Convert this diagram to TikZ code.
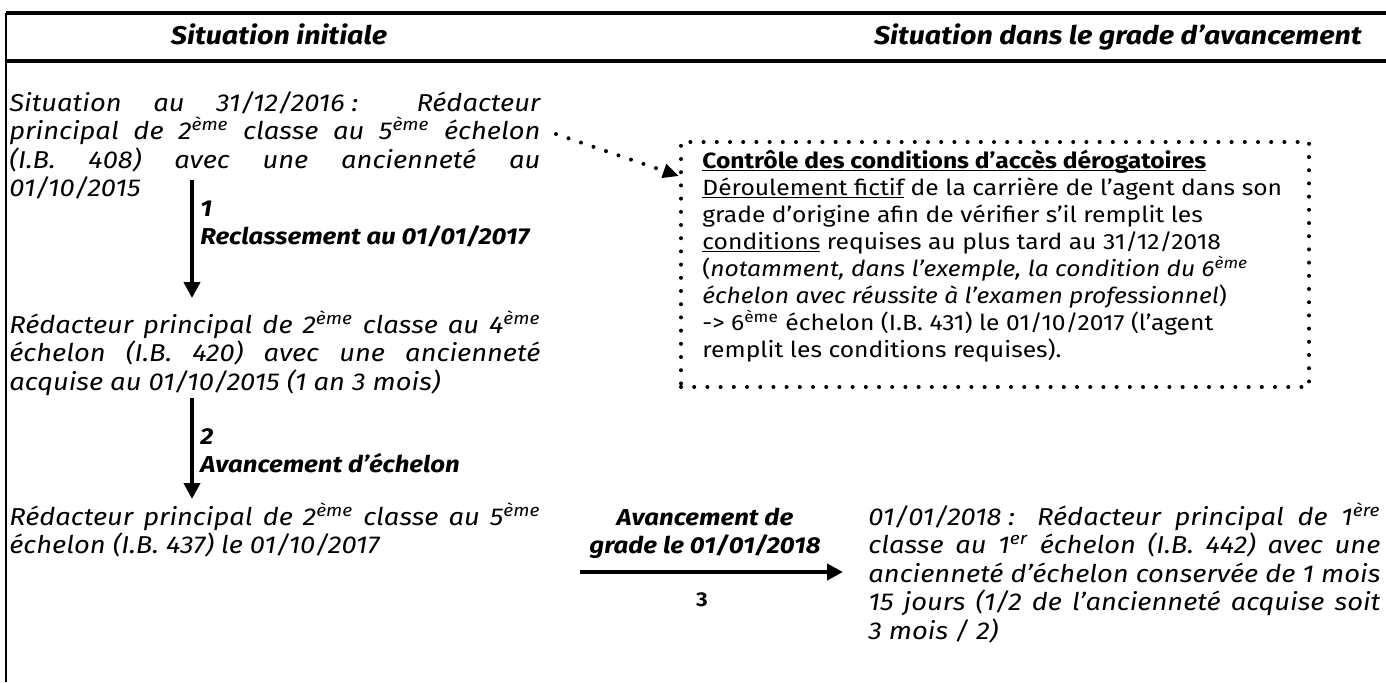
\documentclass[tikz,border=0pt]{standalone}
\usepackage{fontspec}
\setmainfont{Fira Sans}[FakeStretch=1.12]
\usetikzlibrary{arrows.meta}
\newcommand\blkv[1]{\vtop{\lineskiplimit=-1000pt\lineskip=0pt #1}}
\newcommand\ulz[1]{\underline{\smash{#1}}}
\newcommand\colsp{\kern0.28em}
\begin{document}
\begin{tikzpicture}[x=0.5pt,y=-0.5pt,
  title/.style={font=\fontsize{12.8}{15}\selectfont\bfseries\itshape, inner sep=0pt},
  body/.style={font=\fontsize{12.2}{14.25}\selectfont\itshape, inner sep=0pt, anchor=base west},
  lab/.style={font=\fontsize{11.5}{14.25}\selectfont\bfseries\itshape, inner sep=0pt, anchor=base west},
  arr/.style={line width=2pt, -{Triangle[width=8pt,length=8pt]}},
  dots/.style={line width=2pt, line cap=round, dash pattern=on 0pt off 6.6pt},
]
\useasboundingbox (0,0) rectangle (1386,682);
% frame
\draw[line width=1.6pt] (6,13) -- (1386,13);
\draw[line width=1.6pt] (6,61) -- (1386,61);
\draw[line width=1pt] (6,13) -- (6,682);
% titles
\node[title, anchor=base] (t1) at (279,44) {Situation initiale};
\node[title, anchor=base east] (t2) at (1362,44) {Situation dans le grade d’avancement};
% left blocks
\node[body] (a) at (9,111) {\blkv{%
\hbox to 265.5pt{Situation au 31/12/2016\colsp: Rédacteur}
\hbox to 265.5pt{principal de 2\textsuperscript{ème} classe au 5\textsuperscript{ème} échelon}
\hbox to 265.5pt{(I.B. 408) avec une ancienneté au}
\hbox{01/10/2015}}};
\node[body] (b) at (9,333) {\blkv{%
\hbox to 265.5pt{Rédacteur principal de 2\textsuperscript{ème} classe au 4\textsuperscript{ème}}
\hbox to 265.5pt{échelon (I.B. 420) avec une ancienneté}
\hbox{acquise au 01/10/2015 (1 an 3 mois)}}};
\node[body] (c) at (9,525) {\blkv{%
\hbox to 265.5pt{Rédacteur principal de 2\textsuperscript{ème} classe au 5\textsuperscript{ème}}
\hbox{échelon (I.B. 437) le 01/10/2017}}};
\node[body] (r) at (868,525) {\blkv{%
\hbox to 256pt{01/01/2018\colsp: Rédacteur principal de 1\textsuperscript{ère}}
\hbox to 256pt{classe au 1\textsuperscript{er} échelon (I.B. 442) avec une}
\hbox to 256pt{ancienneté d’échelon conservée de 1 mois}
\hbox to 256pt{15 jours (1/2 de l’ancienneté acquise soit}
\hbox{3 mois / 2)}}};
% vertical arrows
\coordinate (a1s) at (192,180);
\coordinate (a1e) at (192,298);
\draw[arr] (a1s) -- (a1e);
\node[lab] (l1) at (200,216) {\blkv{\hbox{1}\hbox{Reclassement au 01/01/2017}}};
\coordinate (a2s) at (192,398);
\coordinate (a2e) at (192,499);
\draw[arr] (a2s) -- (a2e);
\node[lab] (l2) at (200,444) {\blkv{\hbox{2}\hbox{Avancement d’échelon}}};
% grade arrow
\node[lab, anchor=base] (m) at (705,525) {\blkv{\halign{\hfil#\hfil\cr Avancement de\cr grade le 01/01/2018\cr}}};
\coordinate (a3s) at (580,572);
\draw[arr, shorten >=12.5pt] (a3s) -- (a3s -| r.west);
\node[font=\fontsize{10}{12}\selectfont\bfseries, inner sep=0pt, anchor=base] (n3) at (702,606) {3};
% dotted box
\node[dots, draw, anchor=north west, inner sep=0pt, minimum width=314pt, minimum height=122.5pt] (box) at (679,140) {};
\node[font=\fontsize{11}{13.5}\selectfont, inner sep=0pt, anchor=base west] (bt) at (702,168) {\blkv{%
\hbox{\ulz{\textbf{Contrôle des conditions d’accès dérogatoires}}}
\hbox{\ulz{Déroulement fictif} de la carrière de l’agent dans son}
\hbox{grade d’origine afin de vérifier s’il remplit les}
\hbox{\ulz{conditions} requises au plus tard au 31/12/2018}
\hbox{(\textit{notamment, dans l’exemple, la condition du 6\textsuperscript{ème}}}
\hbox{\textit{échelon avec réussite à l’examen professionnel})}
\hbox{-> 6\textsuperscript{ème} échelon (I.B. 431) le 01/10/2017 (l’agent}
\hbox{remplit les conditions requises).}}};
% leader
\coordinate (ls) at (556,134);
\draw[dots, -{Triangle[width=7pt,length=8pt]}] (ls) -- ([yshift=-18pt]box.north west);
\end{tikzpicture}
\end{document}
